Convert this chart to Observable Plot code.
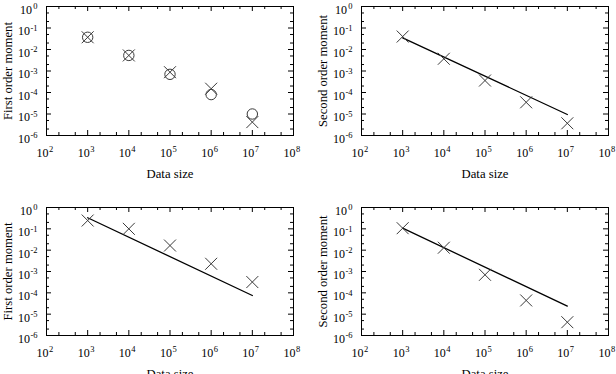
<!DOCTYPE html>
<html><head><meta charset="utf-8">
<script src="https://cdn.jsdelivr.net/npm/d3@7"></script>
<script src="https://cdn.jsdelivr.net/npm/@observablehq/plot@0.6"></script>
<style>
body{margin:0;background:#fff;}
#wrap{position:relative;width:616px;height:374px;overflow:hidden;background:#fff;}
#wrap svg{position:absolute;}
</style></head><body><div id="wrap"></div>
<script>
// ---- data ----
const dataSizes = [1e3, 1e4, 1e5, 1e6, 1e7];
const xDecadeExponents = [2, 3, 4, 5, 6, 7, 8];
const yDecadeExponents = [0, -1, -2, -3, -4, -5, -6];
const minorMultipliers = [2, 5];

const firstTopCross  = [0.037, 0.0053, 0.00088, 1.5e-4, 4.2e-6];
const firstTopCircle = [0.037, 0.0053, 0.0007, 8e-5, 1.0e-5];

const secondTopCross = [0.04, 0.0037, 3.6e-4, 3.5e-5, 3.7e-6];
const secondTopLineX = [1e3, 1e7];
const secondTopLineY = [0.035, 9.5e-6];

const firstBottomCross = [0.245, 0.1, 0.0165, 0.0023, 3.2e-4];
const firstBottomLineX = [1e3, 1e7];
const firstBottomLineY = [0.33, 7.5e-5];

const secondBottomCross = [0.107, 0.013, 7e-4, 4.4e-5, 4.2e-6];
const secondBottomLineX = [1e3, 1e7];
const secondBottomLineY = [0.107, 2.4e-5];

const xLabel = "Data size";
const yLabelFirst = "First order moment";
const yLabelSecond = "Second order moment";

// ---- build ----
const zip = (xs, ys) => xs.map((x, i) => ({x, y: ys[i]}));
const W = 308, H = 187;
const FONT = "'Liberation Serif', 'Times New Roman', serif";

const panels = [
  {left: 0,   top: 0,   ml: 46, mr: 15, mt: 6,  mb: 52, ylabel: yLabelFirst,
   cross: zip(dataSizes, firstTopCross), circle: zip(dataSizes, firstTopCircle), line: null},
  {left: 308, top: 0,   ml: 53, mr: 8,  mt: 6,  mb: 52, ylabel: yLabelSecond,
   cross: zip(dataSizes, secondTopCross), circle: null, line: zip(secondTopLineX, secondTopLineY)},
  {left: 0,   top: 187, ml: 46, mr: 15, mt: 20, mb: 39, ylabel: yLabelFirst,
   cross: zip(dataSizes, firstBottomCross), circle: null, line: zip(firstBottomLineX, firstBottomLineY)},
  {left: 308, top: 187, ml: 53, mr: 8,  mt: 20, mb: 39, ylabel: yLabelSecond,
   cross: zip(dataSizes, secondBottomCross), circle: null, line: zip(secondBottomLineX, secondBottomLineY)}
];

const xMaj = xDecadeExponents.map(e => 10 ** e);
const xMin = xDecadeExponents.slice(0, -1).flatMap(e => minorMultipliers.map(m => m * 10 ** e));
const yMaj = yDecadeExponents.map(e => 10 ** e);
const yMin = yDecadeExponents.slice(1).flatMap(e => minorMultipliers.map(m => m * 10 ** e));

const wrap = document.getElementById("wrap");
for (const p of panels) {
  const ph = H - p.mt - p.mb;
  const pw = W - p.ml - p.mr;
  const marks = [
    Plot.tickX(xMaj, {insetTop: ph - 5, stroke: "#000"}),
    Plot.tickX(xMaj, {insetBottom: ph - 5, stroke: "#000"}),
    Plot.tickX(xMin, {insetTop: ph - 3, stroke: "#000"}),
    Plot.tickX(xMin, {insetBottom: ph - 3, stroke: "#000"}),
    Plot.tickY(yMaj, {insetRight: pw - 5, stroke: "#000"}),
    Plot.tickY(yMaj, {insetLeft: pw - 5, stroke: "#000"}),
    Plot.tickY(yMin, {insetRight: pw - 3, stroke: "#000"}),
    Plot.tickY(yMin, {insetLeft: pw - 3, stroke: "#000"}),
    Plot.frame({stroke: "#000", strokeWidth: 1}),
    // x tick labels
    Plot.text(xDecadeExponents, {x: e => 10 ** e, frameAnchor: "bottom", text: () => "10",
      textAnchor: "end", dx: 2, dy: 17.5, lineAnchor: "middle", fontSize: 12, fill: "#000"}),
    Plot.text(xDecadeExponents, {x: e => 10 ** e, frameAnchor: "bottom", text: e => String(e),
      textAnchor: "start", dx: 2.5, dy: 14, lineAnchor: "middle", fontSize: 8.5, fill: "#000"}),
    // y tick labels
    Plot.text(yDecadeExponents.filter(e => e === 0), {y: e => 10 ** e, frameAnchor: "left", text: () => "10",
      textAnchor: "end", dx: -14.5, dy: 3.5, lineAnchor: "middle", fontSize: 12, fill: "#000"}),
    Plot.text(yDecadeExponents.filter(e => e < 0), {y: e => 10 ** e, frameAnchor: "left", text: () => "10",
      textAnchor: "end", dx: -16.5, dy: 3.5, lineAnchor: "middle", fontSize: 12, fill: "#000"}),
    Plot.text(yDecadeExponents, {y: e => 10 ** e, frameAnchor: "left", text: e => String(e),
      textAnchor: "end", dx: -9, dy: 0, lineAnchor: "middle", fontSize: 8.5, fill: "#000"}),
    // axis labels
    Plot.text([p.ylabel], {frameAnchor: "left", text: d => d, rotate: -90, dx: -39,
      textAnchor: "middle", lineAnchor: "middle", fontSize: 12.7, fill: "#000"}),
    Plot.text([xLabel], {frameAnchor: "bottom", text: d => d, dy: 38,
      textAnchor: "middle", lineAnchor: "middle", fontSize: 12.7, fill: "#000"})
  ];
  if (p.line) marks.push(Plot.line(p.line, {x: "x", y: "y", stroke: "#000", strokeWidth: 1.3}));
  if (p.circle) marks.push(Plot.dot(p.circle, {x: "x", y: "y", r: 5.2, stroke: "#3a3a3a", strokeWidth: 1}));
  marks.push(Plot.dot(p.cross, {x: "x", y: "y", symbol: "times", r: 5.5, stroke: "#3a3a3a", strokeWidth: 1}));

  const svg = Plot.plot({
    width: W, height: H,
    marginLeft: p.ml, marginRight: p.mr, marginTop: p.mt, marginBottom: p.mb,
    x: {type: "log", domain: [1e2, 1e8], axis: null},
    y: {type: "log", domain: [1e-6, 1], axis: null},
    style: {fontFamily: FONT, background: "transparent", overflow: "visible"},
    marks
  });
  svg.style.left = p.left + "px";
  svg.style.top = p.top + "px";
  wrap.appendChild(svg);
}
</script></body></html>
